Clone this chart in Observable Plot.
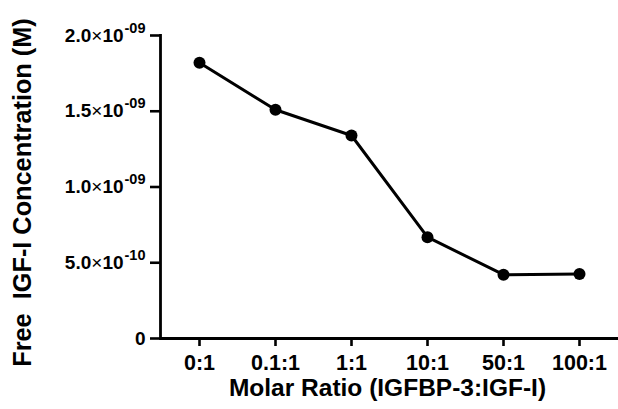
<!DOCTYPE html>
<html>
<head>
<meta charset="utf-8">
<script src="https://cdn.jsdelivr.net/npm/d3@7"></script>
<script src="https://cdn.jsdelivr.net/npm/@observablehq/plot@0.6"></script>
<style>
  html, body { margin: 0; padding: 0; background: #fff; }
</style>
</head>
<body>
<div id="chart"></div>
<script>
const ratios = ["0:1", "0.1:1", "1:1", "10:1", "50:1", "100:1"];
const freeIGF = [1.82e-9, 1.51e-9, 1.34e-9, 6.69e-10, 4.21e-10, 4.26e-10];
const yTicks = [0, 5e-10, 1e-9, 1.5e-9, 2e-9];
const yTickLabels = ["0", "5.0×10-10", "1.0×10-09", "1.5×10-09", "2.0×10-09"];
const xTitle = "Molar Ratio (IGFBP-3:IGF-I)";
const yTitle = "Free\u00a0 IGF-I Concentration (M)";

const data = ratios.map((r, i) => ({ratio: r, value: freeIGF[i]}));
const labelMap = new Map(yTicks.map((t, i) => [t, yTickLabels[i]]));

const svg = Plot.plot({
  width: 618,
  height: 409,
  marginLeft: 160,
  marginRight: 0,
  marginTop: 35,
  marginBottom: 71,
  style: {fontFamily: "'Liberation Sans', Arial, sans-serif", fontWeight: "bold", color: "#000", background: "#fff"},
  x: {type: "point", domain: ratios, padding: 0.48},
  y: {domain: [0, 2e-9]},
  marks: [
    Plot.axisX({tickSize: 8, tickPadding: 8, fontSize: 21.5, strokeWidth: 2.6, label: null}),
    Plot.axisY({ticks: yTicks, tickFormat: d => labelMap.get(d), tickSize: 10, tickPadding: 5, fontSize: 19, strokeWidth: 2.6, label: null}),
    Plot.frame({anchor: "left", strokeWidth: 2.8}),
    Plot.ruleY([0], {strokeWidth: 2.8}),
    Plot.line(data, {x: "ratio", y: "value", stroke: "#000", strokeWidth: 3}),
    Plot.dot(data, {x: "ratio", y: "value", r: 6, fill: "#000", stroke: "none"}),
    Plot.text([xTitle], {frameAnchor: "bottom", dy: 57.5, dx: -2, fontSize: 24.5, fontWeight: "bold"}),
    Plot.text([yTitle], {frameAnchor: "left", textAnchor: "middle", rotate: -90, dx: -138, dy: 5.5, fontSize: 25.3, fontWeight: "bold"})
  ]
});

const sel = d3.select(svg);
sel.selectAll('g[aria-label="y-axis tick label"] text').each(function() {
  const t = this.textContent;
  const m = t.match(/^(.*)×10(.*)$/);
  if (m) {
    const s = d3.select(this);
    s.text(null);
    s.append("tspan").text(m[1]);
    s.append("tspan").attr("font-weight", "normal").text("×");
    s.append("tspan").text("10");
    s.append("tspan").attr("dy", -9).attr("dx", 1).attr("font-size", 14.5).text(m[2]);
  }
});

document.getElementById("chart").appendChild(svg);
</script>
</body>
</html>
